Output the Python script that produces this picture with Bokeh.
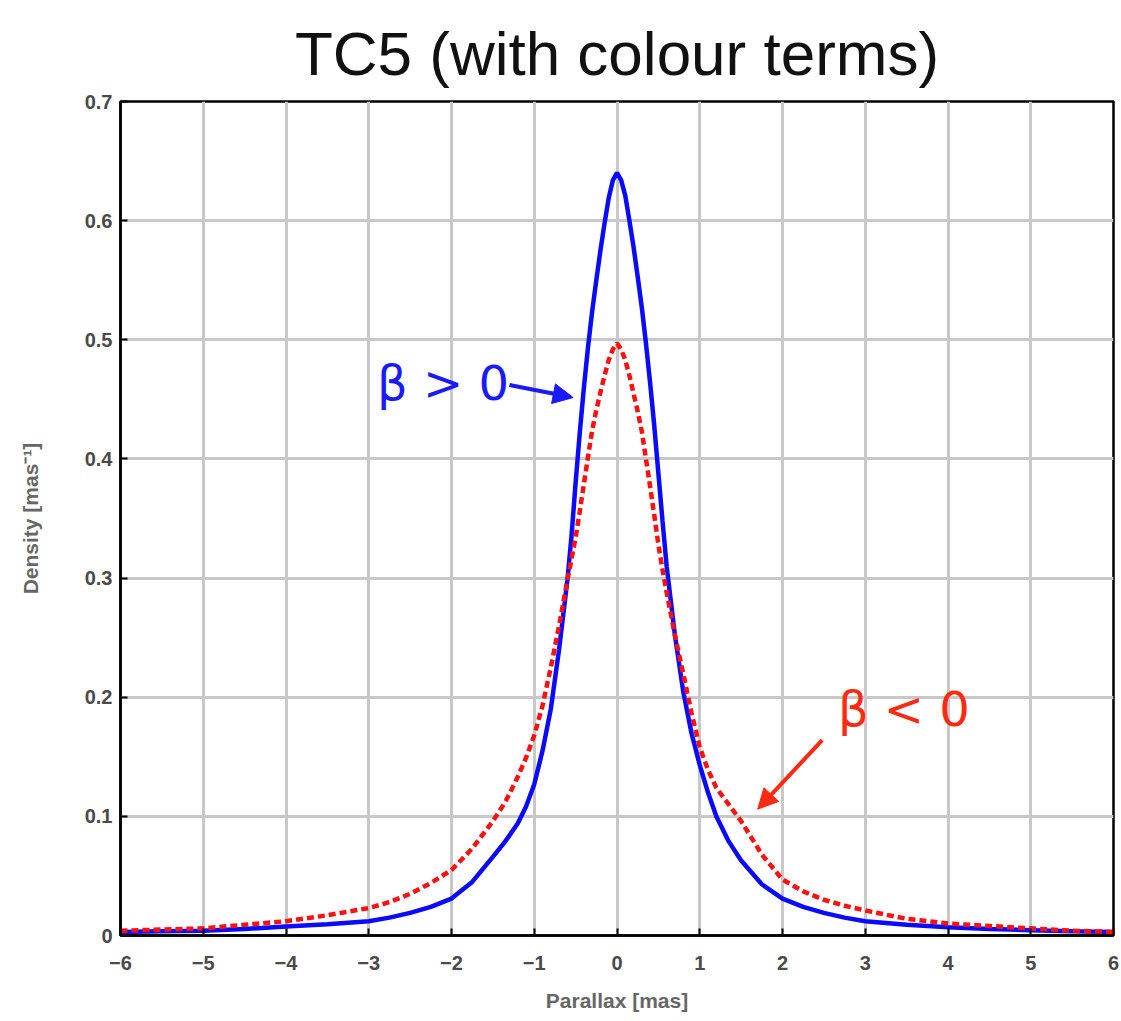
from bokeh.plotting import figure
from bokeh.models import FixedTicker, Label, Arrow, NormalHead, Title
from bokeh.embed import file_html
from bokeh.resources import INLINE

# ---- data ----
parallax = [-6, -5.5, -5, -4.5, -4, -3.5, -3, -2.75, -2.5, -2.25, -2, -1.75, -1.5,
            -1.35, -1.2, -1.1, -1.0, -0.9, -0.8, -0.7, -0.6, -0.55, -0.5, -0.45, -0.4,
            -0.35, -0.3, -0.25, -0.2, -0.15, -0.1, -0.05, 0, 0.05, 0.1, 0.15, 0.2, 0.25,
            0.3, 0.35, 0.4, 0.45, 0.5, 0.55, 0.6, 0.7, 0.8, 0.9, 1.0, 1.1, 1.2, 1.35,
            1.5, 1.75, 2.0, 2.25, 2.5, 2.75, 3.0, 3.5, 4.0, 4.5, 5.0, 5.5, 6.0]

density_beta_pos = [0.003, 0.0035, 0.004, 0.0055, 0.0075, 0.0095, 0.012, 0.015, 0.019,
                    0.024, 0.031, 0.045, 0.066, 0.079, 0.094, 0.108, 0.127, 0.155, 0.19,
                    0.24, 0.298, 0.335, 0.38, 0.422, 0.46, 0.494, 0.524, 0.55, 0.575,
                    0.598, 0.619, 0.634, 0.64, 0.634, 0.621, 0.6, 0.578, 0.553, 0.527,
                    0.497, 0.464, 0.428, 0.388, 0.348, 0.31, 0.252, 0.205, 0.17, 0.143,
                    0.12, 0.1, 0.079, 0.063, 0.043, 0.031, 0.024, 0.019, 0.015, 0.012,
                    0.009, 0.007, 0.0055, 0.0045, 0.0035, 0.003]

density_beta_neg = [0.004, 0.005, 0.006, 0.009, 0.012, 0.017, 0.023, 0.028, 0.035,
                    0.044, 0.055, 0.073, 0.096, 0.112, 0.133, 0.149, 0.168, 0.193, 0.225,
                    0.26, 0.298, 0.316, 0.334, 0.356, 0.379, 0.402, 0.424, 0.441, 0.456,
                    0.47, 0.483, 0.492, 0.497, 0.492, 0.483, 0.47, 0.455, 0.44, 0.423,
                    0.4, 0.377, 0.353, 0.328, 0.307, 0.288, 0.252, 0.22, 0.187, 0.158,
                    0.139, 0.124, 0.11, 0.096, 0.068, 0.047, 0.037, 0.03, 0.025, 0.021,
                    0.014, 0.01, 0.008, 0.006, 0.004, 0.003]

x_ticks = [-6, -5, -4, -3, -2, -1, 0, 1, 2, 3, 4, 5, 6]
x_tick_labels = ["\u22126", "\u22125", "\u22124", "\u22123", "\u22122", "\u22121",
                 "0", "1", "2", "3", "4", "5", "6"]
y_ticks = [0, 0.1, 0.2, 0.3, 0.4, 0.5, 0.6, 0.7]
y_tick_labels = ["0", "0.1", "0.2", "0.3", "0.4", "0.5", "0.6", "0.7"]

title_text = "TC5 (with colour terms)"
x_label = "Parallax [mas]"
y_label = "Density [mas\u207b\u00b9]"

FONT = "Liberation Sans"

p = figure(width=1121, height=1021, output_backend="svg", toolbar_location=None,
           x_range=(-6, 6), y_range=(0, 0.7),
           min_border_left=120, min_border_right=8, min_border_top=101,
           min_border_bottom=86)
p.background_fill_color = "white"
p.border_fill_color = "white"
p.outline_line_color = "black"
p.outline_line_width = 2.5

p.title = Title(text=title_text, align="center", text_font=FONT,
                text_font_size="62px", text_font_style="normal", text_color="#111111",
                text_line_height=0.8, offset=0, standoff=28)

for ax in (p.xaxis[0], p.yaxis[0]):
    ax.axis_line_color = "black"
    ax.axis_line_width = 2.5
    ax.major_tick_in = 7
    ax.major_tick_out = 0
    ax.major_tick_line_width = 2
    ax.minor_tick_line_color = None
    ax.major_label_text_font = FONT
    ax.major_label_text_font_size = "20px"
    ax.major_label_text_font_style = "bold"
    ax.major_label_text_color = "#4a4a4a"
    ax.axis_label_text_font = FONT
    ax.axis_label_text_font_size = "21px"
    ax.axis_label_text_font_style = "bold"
    ax.axis_label_text_color = "#666666"

p.xaxis.ticker = FixedTicker(ticks=x_ticks)
p.xaxis.major_label_overrides = dict(zip(x_ticks, x_tick_labels))
p.xaxis.axis_label = x_label
p.xaxis.major_label_standoff = 20
p.xaxis.axis_label_standoff = 16

p.yaxis.ticker = FixedTicker(ticks=y_ticks)
p.yaxis.major_label_overrides = dict(zip(y_ticks, y_tick_labels))
p.yaxis.axis_label = y_label
p.yaxis.major_label_standoff = 8
p.yaxis.axis_label_standoff = 40

p.xgrid.ticker = FixedTicker(ticks=x_ticks)
p.ygrid.ticker = FixedTicker(ticks=y_ticks)
for g in (p.xgrid[0], p.ygrid[0]):
    g.grid_line_color = "#c8c8c8"
    g.grid_line_width = 3

p.line(parallax, density_beta_pos, line_color="#0a0aff", line_width=4.5)
p.line(parallax, density_beta_neg, line_color="#ff1010", line_width=4.5,
       line_dash="7 4")

# annotations
p.add_layout(Label(x=-2.9, y=0.464, text="\u03b2 > 0", text_color="#1a1aff",
                   text_font="DejaVu Sans", text_font_size="48px",
                   text_baseline="alphabetic"))
p.add_layout(Arrow(x_start=-1.30, y_start=0.462, x_end=-0.53, y_end=0.4515,
                   line_color="#1a1aff", line_width=4,
                   end=NormalHead(size=20, fill_color="#1a1aff", line_color="#1a1aff")))

p.add_layout(Label(x=2.67, y=0.19, text="\u03b2 < 0", text_color="#ff2a10",
                   text_font="DejaVu Sans", text_font_size="48px",
                   text_baseline="alphabetic"))
p.add_layout(Arrow(x_start=2.48, y_start=0.164, x_end=1.70, y_end=0.106,
                   line_color="#ff2a10", line_width=4,
                   end=NormalHead(size=20, fill_color="#ff2a10", line_color="#ff2a10")))

open("out.html", "w").write(file_html(p, INLINE))
